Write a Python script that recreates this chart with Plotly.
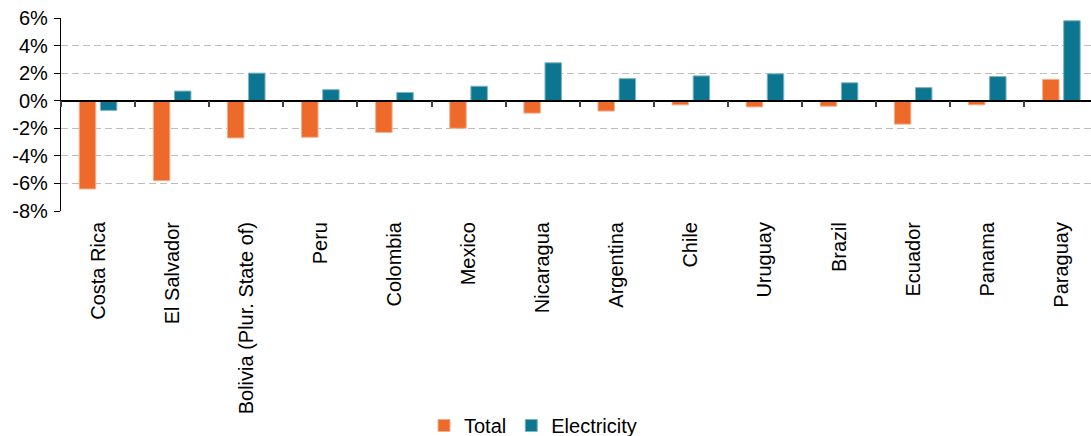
import plotly.graph_objects as go

countries = ["Costa Rica", "El Salvador", "Bolivia (Plur. State of)", "Peru", "Colombia",
             "Mexico", "Nicaragua", "Argentina", "Chile", "Uruguay", "Brazil", "Ecuador",
             "Panama", "Paraguay"]
total = [-6.4, -5.8, -2.7, -2.65, -2.3, -2.0, -0.9, -0.75, -0.3, -0.45, -0.4, -1.7, -0.3, 1.55]
electricity = [-0.7, 0.7, 2.0, 0.8, 0.6, 1.05, 2.75, 1.6, 1.8, 1.95, 1.3, 0.95, 1.75, 5.8]
y_ticks = [6, 4, 2, 0, -2, -4, -6, -8]
y_tick_labels = [f"{v}%" for v in y_ticks]

ORANGE = "#EE6A2A"
TEAL = "#0C7590"
FONT = "Liberation Sans, Arial, sans-serif"
FS = 20

fig = go.Figure()
fig.add_trace(go.Bar(x=countries, y=total, name="Total",
                     marker=dict(color=ORANGE, line=dict(width=1, color="#F5AE8C"))))
fig.add_trace(go.Bar(x=countries, y=electricity, name="Electricity",
                     marker=dict(color=TEAL, line=dict(width=1, color="#7DB4C4"))))
# invisible trace carrying the secondary x axis drawn at the zero line
fig.add_trace(go.Scatter(x=countries, y=[0] * len(countries), xaxis="x2", mode="markers",
                         marker=dict(opacity=0), showlegend=False, hoverinfo="skip"))

ymin, ymax = -8, 6
xrange = [-0.5, 13.4]
fig.update_layout(
    width=1091, height=436,
    margin=dict(l=61, r=0, t=18, b=225, autoexpand=False),
    paper_bgcolor="white", plot_bgcolor="white",
    font=dict(family=FONT, size=FS, color="#000000"),
    barmode="group", bargap=0.43, bargroupgap=0.22,
    showlegend=True,
    legend=dict(orientation="h", xref="container", yref="container",
                x=424 / 1091, xanchor="left", y=10.5 / 436, yanchor="middle",
                font=dict(size=FS), traceorder="normal"),
    xaxis=dict(type="category", range=xrange, showgrid=False, zeroline=False, showline=False,
               ticks="", tickangle=-90, tickfont=dict(size=FS), ticklabelstandoff=6,
               automargin=False),
    xaxis2=dict(type="category", overlaying="x", matches="x", anchor="free",
                position=(0 - ymin) / (ymax - ymin), showline=True, linecolor="#000000",
                linewidth=1.5, ticks="outside", ticklen=6, tickwidth=1.5, tickcolor="#404040",
                tickson="boundaries", showticklabels=False, showgrid=False, side="bottom",
                automargin=False),
    yaxis=dict(range=[ymin, ymax], tickvals=y_ticks, ticktext=y_tick_labels,
               showgrid=True, gridcolor="#BDBDBD", griddash="7px,4px", gridwidth=1,
               zeroline=False, showline=True, linecolor="#000000", linewidth=1.3,
               ticks="outside", ticklen=6, tickwidth=1.3, tickcolor="#000000",
               tickfont=dict(size=FS), ticklabelstandoff=2, automargin=False),
)

fig.write_html("out.html", config={"displayModeBar": False},
               post_script="document.body.style.margin='0';document.body.style.overflow='hidden';")
